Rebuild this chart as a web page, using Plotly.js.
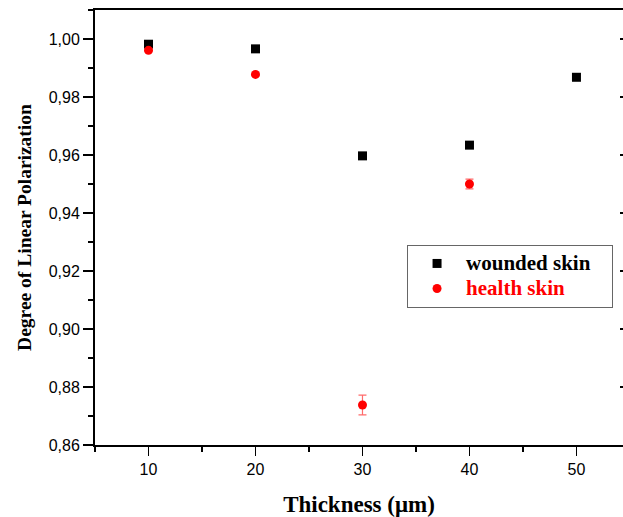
<!DOCTYPE html>
<html>
<head>
<meta charset="utf-8">
<script src="https://cdn.plot.ly/plotly-3.0.1.min.js"></script>
<style>html,body{margin:0;padding:0;background:#fff;}#chart{width:623px;height:517px;}</style>
</head>
<body>
<div id="chart"></div>
<script>
const thickness = [10, 20, 30, 40, 50];
const woundedDLP = [0.9982, 0.9966, 0.9597, 0.9634, 0.9868];
const woundedErr = [0.0004, 0.0004, 0.0003, 0.0003, 0.0003];
const healthThickness = [10, 20, 30, 40];
const healthDLP = [0.9961, 0.9878, 0.8738, 0.9500];
const healthErr = [0.0005, 0.0004, 0.0034, 0.0017];
const yTicks = [0.86, 0.88, 0.90, 0.92, 0.94, 0.96, 0.98, 1.00];
const xTicks = [10, 20, 30, 40, 50];

const serif = 'Liberation Serif, Times New Roman, serif';
const sans = 'Liberation Sans, Arial, sans-serif';

const traces = [
  {
    x: thickness, y: woundedDLP, type: 'scatter', mode: 'markers',
    name: '<span style="font-size:21px"><b>wounded skin</b>&nbsp;&nbsp;&nbsp;</span>',
    marker: {symbol: 'square', size: 9, color: '#000'},
    error_y: {type: 'data', array: woundedErr, visible: true, color: '#444', thickness: 1, width: 3}
  },
  {
    x: healthThickness, y: healthDLP, type: 'scatter', mode: 'markers',
    name: '<span style="font-size:21px;color:#ff0000"><b>health skin</b></span>',
    marker: {symbol: 'circle', size: 9, color: '#ff0000'},
    error_y: {type: 'data', array: healthErr, visible: true, color: '#ff6b6b', thickness: 1.2, width: 4}
  },
  {
    x: [30], y: [0.9], yaxis: 'y2', type: 'scatter', mode: 'markers',
    marker: {opacity: 0}, showlegend: false, hoverinfo: 'skip'
  }
];

const layout = {
  width: 623, height: 517,
  margin: {l: 95, r: 0, t: 10, b: 72},
  paper_bgcolor: '#fff', plot_bgcolor: '#fff',
  separators: ', ',
  showlegend: true,
  legend: {
    x: 0.591, y: 0.46, xanchor: 'left', yanchor: 'top',
    bgcolor: '#fff', bordercolor: '#666', borderwidth: 1,
    font: {family: serif, size: 17, color: '#000'},
    itemwidth: 48, tracegroupgap: 0
  },
  xaxis: {
    range: [5, 54.35],
    tickvals: xTicks, ticktext: xTicks.map(String),
    ticks: 'outside', ticklen: 9, tickwidth: 1.5, tickcolor: '#000',
    minor: {dtick: 5, tick0: 5, ticks: 'outside', ticklen: 5, tickwidth: 1.5, tickcolor: '#000'},
    showgrid: false, zeroline: false,
    showline: true, linewidth: 2, linecolor: '#000', mirror: true,
    tickfont: {family: sans, size: 16, color: '#000'},
    title: {text: '<b>Thickness (μm)</b>', font: {family: serif, size: 23, color: '#000'}, standoff: 19}
  },
  yaxis: {
    range: [0.86, 1.01],
    tickvals: yTicks, tickformat: '.2f',
    ticks: 'outside', ticklen: 10, tickwidth: 1.5, tickcolor: '#000',
    minor: {dtick: 0.01, tick0: 0.86, ticks: 'outside', ticklen: 5, tickwidth: 1.5, tickcolor: '#000'},
    showgrid: false, zeroline: false,
    showline: true, linewidth: 2, linecolor: '#000',
    tickfont: {family: sans, size: 16, color: '#000'},
    title: {text: '<b>Degree of Linear Polarization</b>', font: {family: serif, size: 19.5, color: '#000'}, standoff: 12}
  },
  yaxis2: {
    overlaying: 'y', side: 'right', range: [0.86, 1.01],
    tickvals: yTicks, ticks: 'inside', ticklen: 3, tickwidth: 1.5, tickcolor: '#000',
    showticklabels: false, showgrid: false, zeroline: false, showline: false
  }
};

Plotly.newPlot('chart', traces, layout, {displayModeBar: false, staticPlot: true});
</script>
</body>
</html>
